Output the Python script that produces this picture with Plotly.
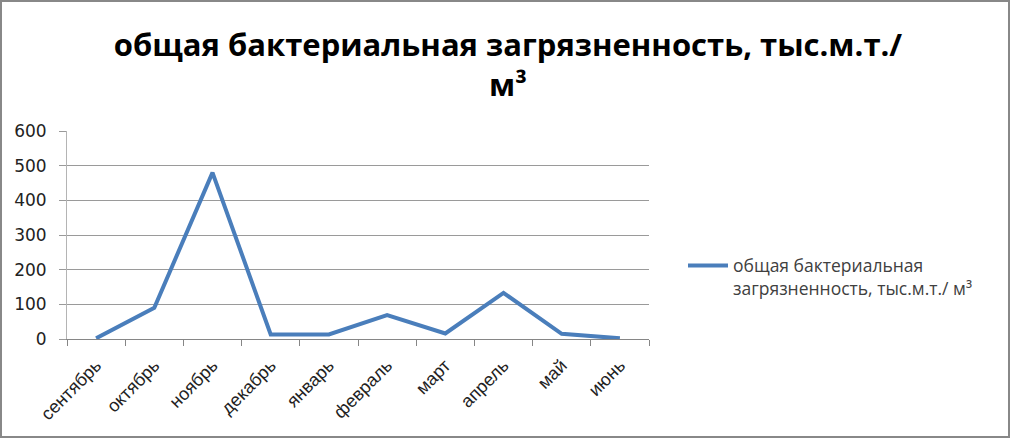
import plotly.graph_objects as go

months = ["сентябрь", "октябрь", "ноябрь", "декабрь", "январь",
          "февраль", "март", "апрель", "май", "июнь"]
values = [2, 90, 480, 13, 13, 69, 16, 133, 15, 2]
series_name = "общая бактериальная<br>загрязненность, тыс.м.т./ м³"
title_text = "общая бактериальная загрязненность, тыс.м.т./<br>м³"

W, H = 1010, 438
L, R, T, B = 67, 361, 131, 99
pw, ph = W - L - R, H - T - B

fig = go.Figure()
fig.add_trace(go.Scatter(
    x=months, y=values, mode="lines", name=series_name,
    line=dict(color="#4a7ebb", width=4),
))

fig.update_layout(
    width=W, height=H,
    margin=dict(l=L, r=R, t=T, b=B),
    paper_bgcolor="white", plot_bgcolor="white",
    title=dict(text=title_text, x=0.503, xanchor="center", y=1 - 56 / H, yanchor="middle",
               font=dict(family="Open Sans", size=31, color="black", weight="bold")),
    showlegend=True,
    legend=dict(x=(683 - L) / pw, xanchor="left", y=(339 - 277) / ph, yanchor="middle",
                valign="top",
                font=dict(family="Open Sans", size=17.5, color="#404040"),
                itemwidth=40, bgcolor="rgba(0,0,0,0)"),
    xaxis=dict(type="category", tickson="boundaries", ticks="outside", ticklen=6,
               tickcolor="#868686", showgrid=False, showline=True, linecolor="#868686",
               linewidth=1, tickangle=-45, ticklabelstandoff=8,
               tickfont=dict(family="Liberation Sans", size=18, color="#222222"),
               range=[-0.5, 9.5]),
    yaxis=dict(range=[0, 600], dtick=100, showgrid=True, gridcolor="#9a9a9a",
               gridwidth=1, zeroline=False, showline=True, linecolor="#b4b4b4",
               ticks="outside", ticklen=7, tickcolor="#9a9a9a",
               ticklabelstandoff=9,
               tickfont=dict(family="DejaVu Sans", size=17, color="#222222")),
    shapes=[dict(type="rect", xref="paper", yref="paper",
                 x0=-(L - 1) / pw, x1=1 + (R - 1) / pw,
                 y0=-(B - 1) / ph, y1=1 + (T - 1) / ph,
                 line=dict(color="#888888", width=2))],
)

fig.write_html("out.html", config={"displayModeBar": False},
               post_script="document.body.style.margin='0';document.body.style.overflow='hidden';")
